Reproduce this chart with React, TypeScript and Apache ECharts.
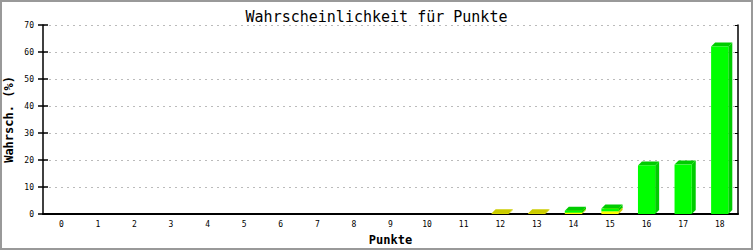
import React, { useEffect, useRef } from "react";
import * as echarts from "echarts";

const categories = ["0","1","2","3","4","5","6","7","8","9","10","11","12","13","14","15","16","17","18"];
const yellowValues = [0,0,0,0,0,0,0,0,0,0,0,0,0.3,0.3,0.5,1.0,0,0,0];
const greenValues = [0,0,0,0,0,0,0,0,0,0,0,0,0,0,0.7,1.0,18.0,18.3,62.0];
const yTicks = [0, 10, 20, 30, 40, 50, 60, 70];

const FONT = "'DejaVu Sans Mono', 'Liberation Mono', monospace";

export default function App() {
  const ref = useRef<HTMLDivElement>(null);
  useEffect(() => {
    if (!ref.current) return;
    const chart = echarts.init(ref.current, null, { renderer: "svg" });
    const segs: number[][] = [];
    categories.forEach((_, i) => {
      const y = yellowValues[i];
      const g = greenValues[i];
      if (y > 0) segs.push([i, 0, y, 0]);
      if (g > 0) segs.push([i, y, y + g, 1]);
    });
    const fronts = ["#ffff00", "#00ff00"];
    const sides = ["#cccc00", "#00cc00"];
    chart.setOption({
      animation: false,
      backgroundColor: "#ffffff",
      title: {
        text: "Wahrscheinlichkeit für Punkte",
        left: "center",
        top: 2,
        textStyle: { fontFamily: FONT, fontSize: 15, fontWeight: "normal", color: "#000" },
      },
      grid: {
        left: 41, right: 13, top: 23, bottom: 34,
        containLabel: false,
        outerBoundsMode: "none",
      },
      xAxis: {
        type: "category",
        data: categories,
        name: "Punkte",
        nameLocation: "middle",
        nameGap: 20,
        nameMoveOverlap: false,
        nameTextStyle: { fontFamily: FONT, fontSize: 12, fontWeight: "bold", color: "#000" },
        axisLine: { lineStyle: { color: "#000", width: 2 } },
        axisTick: { show: false },
        axisLabel: { fontFamily: FONT, fontSize: 8, color: "#000", margin: 6 },
      },
      yAxis: [
        {
          type: "value",
          min: 0,
          max: 70,
          interval: 10,
          name: "Wahrsch. (%)",
          nameLocation: "middle",
          nameGap: 28,
          nameMoveOverlap: false,
          nameTextStyle: { fontFamily: FONT, fontSize: 12, fontWeight: "bold", color: "#000" },
          axisLine: { show: true, lineStyle: { color: "#000", width: 1.5 } },
          axisTick: { show: true, length: 5, lineStyle: { color: "#000", width: 1.5 } },
          axisLabel: {
            fontFamily: FONT, fontSize: 8, color: "#000", margin: 9,
            formatter: (v: number) => (yTicks.includes(v) ? String(v) : ""),
          },
          splitLine: { show: true, lineStyle: { color: "#bbbbbb", type: [2, 4] } },
        },
        {
          type: "value",
          min: 0,
          max: 70,
          interval: 10,
          position: "right",
          axisLine: { show: true, lineStyle: { color: "#000", width: 1.5 } },
          axisTick: { show: true, inside: true, length: 3, lineStyle: { color: "#000" } },
          axisLabel: { show: false },
          splitLine: { show: false },
        },
        {
          type: "value",
          min: 0,
          max: 70,
          interval: 10,
          position: "left",
          axisLine: { show: false },
          axisTick: { show: true, inside: true, length: 5, lineStyle: { color: "#000", width: 1.5 } },
          axisLabel: { show: false },
          splitLine: { show: false },
        },
      ],
      series: [
        {
          type: "custom",
          data: segs,
          encode: { x: 0, y: 2 },
          renderItem: (params: any, api: any) => {
            const i = api.value(0);
            const base = api.value(1);
            const top = api.value(2);
            const c = api.value(3);
            const pTop = api.coord([i, top]);
            const pBase = api.coord([i, base]);
            const bw = api.size([1, 0])[0] * 0.47;
            const d = 4;
            const x0 = pTop[0] - bw / 2;
            const x1 = x0 + bw;
            const yt = pTop[1];
            const yb = pBase[1];
            return {
              type: "group",
              children: [
                {
                  type: "polygon",
                  shape: { points: [[x1, yt], [x1 + d, yt - d], [x1 + d, yb - d], [x1, yb]] },
                  style: { fill: sides[c] },
                },
                {
                  type: "polygon",
                  shape: { points: [[x0, yt], [x0 + d, yt - d], [x1 + d, yt - d], [x1, yt]] },
                  style: { fill: sides[c] },
                },
                {
                  type: "rect",
                  shape: { x: x0, y: yt, width: bw, height: Math.max(0, yb - yt) },
                  style: { fill: fronts[c] },
                },
              ],
            };
          },
        },
      ],
    });
    return () => chart.dispose();
  }, []);
  return (
    <div
      style={{
        position: "absolute",
        left: 0,
        top: 0,
        width: 753,
        height: 250,
        boxSizing: "border-box",
        border: "2px solid #999999",
        background: "#fff",
      }}
    >
      <div ref={ref} style={{ width: 749, height: 246 }} />
    </div>
  );
}
